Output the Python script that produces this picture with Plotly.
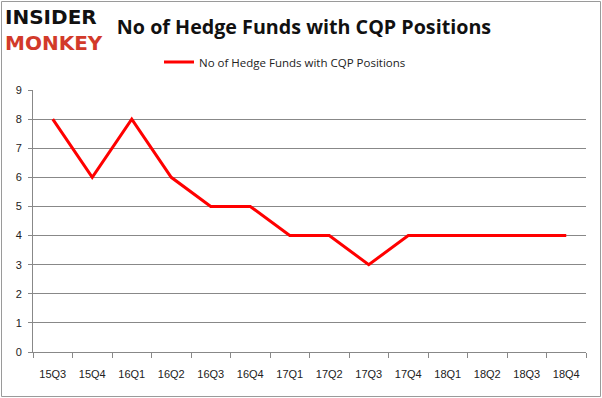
import plotly.graph_objects as go

quarters = ["15Q3", "15Q4", "16Q1", "16Q2", "16Q3", "16Q4", "17Q1",
            "17Q2", "17Q3", "17Q4", "18Q1", "18Q2", "18Q3", "18Q4"]
funds = [8, 6, 8, 6, 5, 5, 4, 4, 3, 4, 4, 4, 4, 4]
series_name = "No of Hedge Funds with CQP Positions"
title_text = "No of Hedge Funds with CQP Positions"

W, H = 602, 398
ML, MR, MT, MB = 33, 16, 90, 46
pw, ph = W - ML - MR, H - MT - MB

fig = go.Figure()
fig.add_trace(go.Scatter(
    x=quarters, y=funds, mode="lines", name=series_name,
    line=dict(color="#ff0000", width=3),
))

grid = "#888888"
fig.update_layout(
    width=W, height=H,
    margin=dict(l=ML, r=MR, t=MT, b=MB, autoexpand=False),
    paper_bgcolor="white", plot_bgcolor="white",
    font=dict(family="Liberation Sans, Arial, sans-serif", size=11, color="#222"),
    showlegend=True,
    legend=dict(orientation="h", x=(285 - ML) / pw, xanchor="center", y=1 + 28 / ph,
                yanchor="middle", itemwidth=30,
                font=dict(family="Open Sans, Liberation Sans, sans-serif", size=11.5, color="#222"),
                bgcolor="rgba(0,0,0,0)"),
    title=dict(text="<b>" + title_text + "</b>", x=0.5 + 3 / W, xanchor="center",
               y=1 - 27 / H, yanchor="middle",
               font=dict(family="Open Sans, Liberation Sans, sans-serif", size=19.7, color="#111")),
    xaxis=dict(type="category", showgrid=False, showline=True, linecolor=grid, linewidth=1,
               ticks="outside", tickson="boundaries", ticklen=5, tickcolor=grid,
               tickfont=dict(size=11), range=[-0.5, len(quarters) - 0.5], ticklabelstandoff=12,
               automargin=False),
    yaxis=dict(range=[0, 9], dtick=1, showgrid=True, gridcolor=grid, gridwidth=1,
               showline=True, linecolor=grid, ticks="outside", ticklen=4, tickcolor=grid,
               tickfont=dict(size=11), zeroline=False, automargin=False, ticklabelstandoff=4),
)

# outer frame
fig.add_shape(type="rect", xref="paper", yref="paper",
              x0=-(ML - 1.5) / pw, x1=1 + (MR - 1.5) / pw,
              y0=-(MB - 1.5) / ph, y1=1 + (MT - 1.5) / ph,
              line=dict(color="#9a9a9a", width=1), fillcolor="rgba(0,0,0,0)", layer="below")

# logo
fig.add_annotation(text="<b>INSIDER</b><br><b><span style='color:#d23a2a'>MONKEY</span></b>",
                   xref="paper", yref="paper", align="left",
                   x=-(ML - 3) / pw, y=1 + (MT - 30) / ph, xanchor="left", yanchor="middle",
                   showarrow=False, font=dict(family="DejaVu Sans", size=20, color="#111"))

fig.write_html("out.html", post_script="document.body.style.margin='0';",
               config={"displayModeBar": False})
